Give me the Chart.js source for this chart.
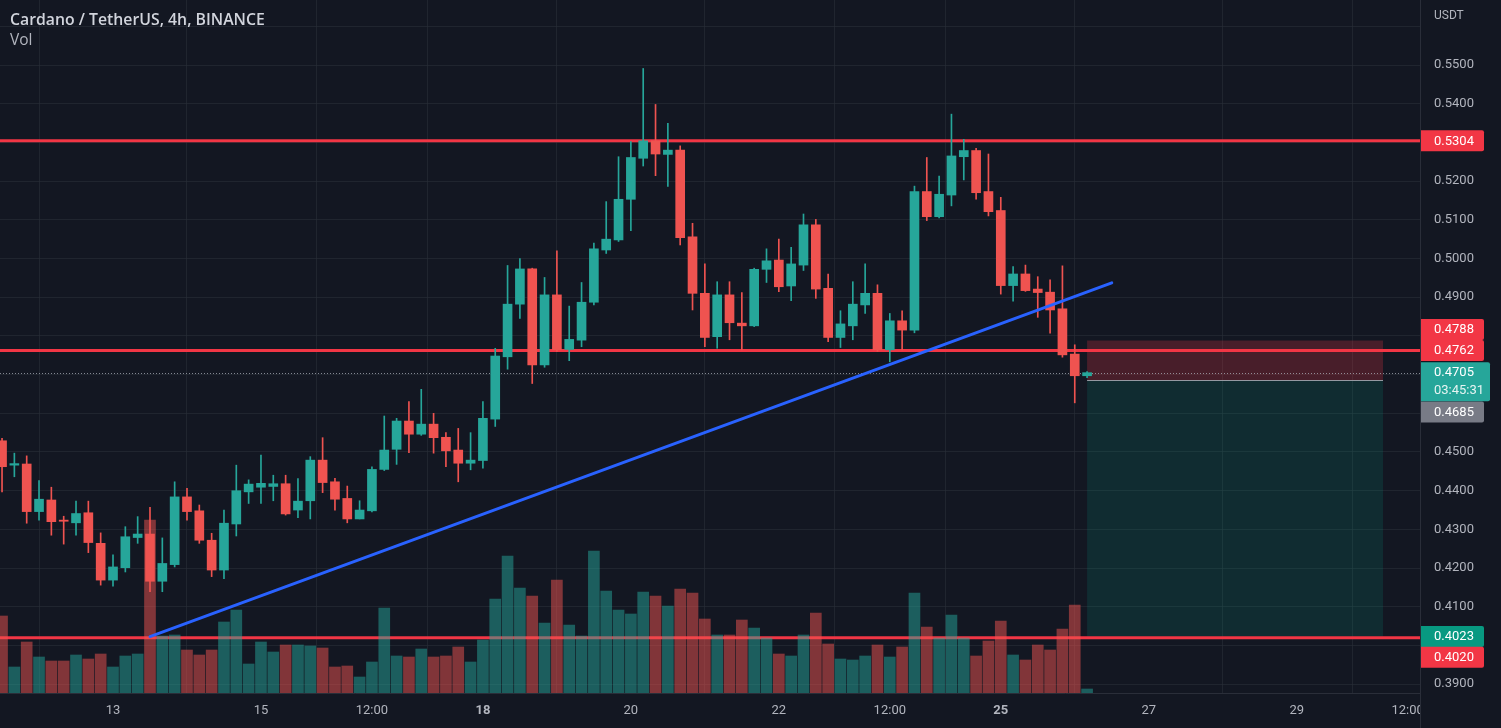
<!DOCTYPE html>
<html><head><meta charset="utf-8">
<script src="https://cdn.jsdelivr.net/npm/chart.js@4.4.0/dist/chart.umd.min.js"></script>
<style>html,body{margin:0;padding:0;background:#131722;overflow:hidden}canvas{display:block}</style>
</head><body>
<canvas id="c" width="1501" height="728" style="width:1501px;height:728px"></canvas>
<script>
// ---------- DATA ----------
const title = 'Cardano / TetherUS, 4h, BINANCE';
const volTitle = 'Vol';
const currency = 'USDT';
// candle index 0 = 13th 00:00, one step = 4h; first visible candle = 11th 12:00
const firstIndex = -9;
const open = [
.4529,.4466,.4469,.4346,.4376,.4324,.4317,.4343,.4264,
.4169,.4201,.4279,.4288,.4166,.4209,.4384,.4348,.4272,.4195,
.4314,.4397,.4409,.4411,.4418,.4350,.4374,.4479,.4423,.4380,
.4327,.4348,.4455,.4507,.4580,.4546,.4572,.4538,.4505,.4471,
.4478,.4585,.4746,.4882,.4973,.4725,.4906,.4765,.4789,.4887,
.5022,.5048,.5153,.5259,.5304,.5269,.5280,.5056,.4910,.4798,
.4906,.4833,.4826,.4972,.4996,.4929,.4983,.5087,.4923,.4796,
.4826,.4880,.4910,.4764,.4839,.4815,.5173,.5108,.5164,.5263,
.5279,.5173,.5124,.4930,.4960,.4921,.4913,.4870,.4753,.4697];
const high = [
.4535,.4497,.4490,.4426,.4409,.4334,.4373,.4373,.4291,
.4234,.4307,.4333,.4357,.4278,.4423,.4406,.4363,.4290,.4350,
.4466,.4428,.4492,.4440,.4440,.4431,.4488,.4537,.4432,.4412,
.4374,.4462,.4593,.4587,.4630,.4662,.4600,.4550,.4561,.4550,
.4630,.4768,.4982,.5000,.4975,.4951,.5020,.4877,.4938,.5040,
.5147,.5263,.5302,.5491,.5398,.5349,.5291,.5091,.4986,.4940,
.4940,.4912,.4975,.5025,.5050,.5029,.5115,.5101,.4960,.4865,
.4940,.4986,.4932,.4858,.4865,.5187,.5261,.5213,.5373,.5308,
.5285,.5270,.5158,.4979,.4983,.4953,.4945,.4981,.4777,.4708];
const low = [
.4397,.4436,.4316,.4324,.4285,.4262,.4285,.4240,.4156,
.4153,.4190,.4264,.4139,.4139,.4203,.4324,.4264,.4178,.4173,
.4283,.4367,.4367,.4374,.4337,.4330,.4327,.4395,.4350,.4317,
.4327,.4345,.4452,.4468,.4498,.4543,.4497,.4462,.4423,.4454,
.4458,.4566,.4714,.4845,.4677,.4719,.4760,.4736,.4772,.4880,
.5013,.5044,.5072,.5239,.5214,.5186,.5035,.4867,.4772,.4768,
.4790,.4764,.4824,.4938,.4914,.4891,.4969,.4897,.4785,.4770,
.4790,.4858,.4760,.4733,.4764,.4808,.5098,.5105,.5136,.5203,
.5153,.5110,.4908,.4890,.4915,.4848,.4807,.4745,.4627,.4692];
const close = [
.4462,.4470,.4346,.4378,.4320,.4321,.4341,.4266,.4169,
.4203,.4281,.4288,.4166,.4212,.4384,.4346,.4272,.4195,.4316,
.4400,.4417,.4419,.4418,.4340,.4373,.4479,.4421,.4378,.4327,
.4350,.4455,.4505,.4580,.4546,.4572,.4537,.4503,.4471,.4479,
.4587,.4748,.4882,.4973,.4725,.4906,.4764,.4791,.4887,.5025,
.5050,.5153,.5261,.5304,.5270,.5280,.5054,.4910,.4796,.4906,
.4834,.4826,.4972,.4994,.4927,.4986,.5087,.4921,.4796,.4831,
.4882,.4910,.4764,.4839,.4815,.5173,.5108,.5166,.5265,.5279,
.5170,.5121,.4930,.4960,.4917,.4912,.4867,.4751,.4697,.4705];
const volume = [ // millions
7.7,2.6,5.1,3.6,3.2,3.2,3.8,3.4,3.9,
2.6,3.7,3.9,17.3,5.7,5.8,4.3,3.8,4.3,7.1,
8.3,2.9,5.1,4.1,4.8,4.8,4.7,4.5,2.6,2.7,
1.6,3.1,8.5,3.7,3.6,4.4,3.6,3.7,4.6,3.1,
5.3,9.4,13.7,10.5,9.7,7.0,11.3,6.8,5.7,14.2,
10.2,8.3,7.9,10.1,9.7,8.7,10.4,10.0,7.4,5.8,
5.8,7.3,6.5,5.5,3.9,3.7,5.8,8.0,4.9,3.4,
3.3,3.7,4.8,3.6,4.6,10.0,6.6,5.5,7.8,5.5,
3.7,5.2,7.2,3.8,3.3,4.8,4.3,6.4,8.8,0.4];
const xTickPos = [0,12,21,30,42,54,63,72,84,96,105];
const xTickLabels = ['13','15','12:00','18','20','22','12:00','25','27','29','12:00'];
const xBoldLabels = ['18','25'];
const priceTicks = [0.39,0.40,0.41,0.42,0.43,0.44,0.45,0.46,0.47,0.48,0.49,0.50,0.51,0.52,0.53,0.54,0.55,0.56];
const hiddenPriceTicks = [0.40,0.46,0.47,0.48,0.53,0.56];
const levelLines = [0.5304, 0.4762, 0.4020];
const trendX = [3, 81];
const trendY = [0.4023, 0.4937];
const posStart = 79, posEnd = 103;
const posEntry = 0.4685, posStop = 0.4788, posTarget = 0.4023;
const lastPrice = 0.4705;
const countdown = '03:45:31';

// ---------- STYLE ----------
const BG = '#131722', UP = '#26a69a', DN = '#ef5350';
const UPV = 'rgba(38,166,154,0.5)', DNV = 'rgba(239,83,80,0.5)';
const LINE_RED = '#f23645', LINE_BLUE = '#2962ff';
const GRID = 'rgba(42,46,57,0.6)', TXT = '#b2b5be';
const FONT = "Roboto, 'Noto Sans', sans-serif";
const TITLE_FONT = "'Open Sans', Roboto, sans-serif";
// axis price labels (dy = stacking shift in px)
const axisLabels = [
  {price: 0.5304, text: '0.5304', bg: '#f23645', dy: 0},
  {price: 0.4788, text: '0.4788', bg: '#f23645', dy: -11},
  {price: 0.4762, text: '0.4762', bg: '#f23645', dy: 0},
  {price: 0.4685, text: '0.4685', bg: '#787b86', dy: 31.5},
  {price: 0.4023, text: '0.4023', bg: '#089981', dy: 0},
  {price: 0.4020, text: '0.4020', bg: '#f23645', dy: 19.5}
];

Chart.defaults.font.family = FONT;
Chart.defaults.font.size = 13;
Chart.defaults.color = TXT;

const xs = open.map((_, i) => i + firstIndex);
const isUp = close.map((c, i) => c >= open[i]);

const decor = {
  id: 'decor',
  beforeDraw(chart) {
    const ctx = chart.ctx;
    ctx.save(); ctx.fillStyle = BG; ctx.fillRect(0, 0, chart.width, chart.height); ctx.restore();
  },
  beforeDatasetsDraw(chart) {
    const {ctx, chartArea: a, scales: {x, y}} = chart;
    ctx.save();
    ctx.beginPath(); ctx.rect(a.left, a.top, a.right - a.left, a.bottom - a.top); ctx.clip();
    const x0 = x.getPixelForValue(posStart), x1 = x.getPixelForValue(posEnd);
    const yS = y.getPixelForValue(posStop), yE = y.getPixelForValue(posEntry), yT = y.getPixelForValue(posTarget);
    ctx.fillStyle = 'rgba(242,54,69,0.24)'; ctx.fillRect(x0, yS, x1 - x0, yE - yS);
    ctx.fillStyle = 'rgba(8,153,129,0.16)'; ctx.fillRect(x0, yE, x1 - x0, yT - yE);
    ctx.strokeStyle = '#9598a1'; ctx.lineWidth = 1;
    ctx.beginPath(); ctx.moveTo(x0, Math.round(yE) + 0.5); ctx.lineTo(x1, Math.round(yE) + 0.5); ctx.stroke();
    // last price dotted line
    const yl = Math.round(y.getPixelForValue(lastPrice)) + 0.5;
    ctx.setLineDash([1, 2]); ctx.strokeStyle = 'rgba(180,185,195,0.7)';
    ctx.beginPath(); ctx.moveTo(a.left, yl); ctx.lineTo(a.right, yl); ctx.stroke();
    ctx.setLineDash([]);
    // horizontal levels
    ctx.strokeStyle = LINE_RED; ctx.lineWidth = 3;
    levelLines.forEach(p => {
      const yy = y.getPixelForValue(p);
      ctx.beginPath(); ctx.moveTo(a.left, yy); ctx.lineTo(a.right, yy); ctx.stroke();
    });
    ctx.restore();
  },
  afterDatasetsDraw(chart) {
    const {ctx, chartArea: a, scales: {x, y}} = chart;
    ctx.save();
    ctx.beginPath(); ctx.rect(a.left, a.top, a.right - a.left, a.bottom - a.top); ctx.clip();
    ctx.strokeStyle = LINE_BLUE; ctx.lineWidth = 3; ctx.lineCap = 'round';
    ctx.beginPath();
    ctx.moveTo(x.getPixelForValue(trendX[0]), y.getPixelForValue(trendY[0]));
    ctx.lineTo(x.getPixelForValue(trendX[1]), y.getPixelForValue(trendY[1]));
    ctx.stroke();
    ctx.restore();
  },
  afterDraw(chart) {
    const {ctx, chartArea: a, scales: {y}} = chart;
    ctx.save();
    // clip the x labels at the price-axis corner
    ctx.fillStyle = BG; ctx.fillRect(a.right + 1, a.bottom + 1, chart.width - a.right, chart.height - a.bottom);
    ctx.strokeStyle = '#2a2e39'; ctx.lineWidth = 1;
    ctx.beginPath(); ctx.moveTo(a.right + 0.5, 0); ctx.lineTo(a.right + 0.5, chart.height); ctx.stroke();
    // titles
    ctx.textBaseline = 'middle'; ctx.textAlign = 'left';
    ctx.fillStyle = '#d1d4dc'; ctx.font = '600 15.8px ' + TITLE_FONT; ctx.fillText(title, 10, 20);
    ctx.fillStyle = TXT; ctx.font = '15.5px ' + TITLE_FONT; ctx.fillText(volTitle, 10, 41);
    ctx.font = '12px ' + FONT; ctx.fillStyle = TXT; ctx.fillText(currency, a.right + 14, 16);
    // price labels
    const L = a.right + 1, W = 63, H = 21;
    ctx.font = '13px ' + FONT;
    axisLabels.forEach(lb => {
      const cy = y.getPixelForValue(lb.price) + lb.dy;
      ctx.fillStyle = lb.bg;
      ctx.beginPath(); ctx.roundRect(L, cy - H / 2, W, H, [0, 2, 2, 0]); ctx.fill();
      ctx.fillStyle = '#ffffff'; ctx.fillText(lb.text, a.right + 14, cy + 0.5);
    });
    // last price label with countdown
    const cy = y.getPixelForValue(lastPrice);
    ctx.fillStyle = UP;
    ctx.beginPath(); ctx.roundRect(L, cy - 10.5, 69, 39, [0, 2, 2, 0]); ctx.fill();
    ctx.fillStyle = '#ffffff'; ctx.fillText(lastPrice.toFixed(4), a.right + 14, cy + 0.5);
    ctx.fillStyle = '#e6f4f2'; ctx.fillText(countdown, a.right + 14, cy + 18);
    ctx.restore();
  }
};

new Chart(document.getElementById('c'), {
  type: 'bar',
  data: {
    datasets: [
      {
        label: 'body', order: 0, grouped: false, barThickness: 9, minBarLength: 1,
        data: xs.map((x, i) => ({x, y: [open[i], close[i]]})),
        backgroundColor: isUp.map(u => u ? UP : DN), borderWidth: 0,
        xAxisID: 'x', yAxisID: 'y'
      },
      {
        label: 'wick', order: 1, grouped: false, barThickness: 1,
        data: xs.map((x, i) => ({x, y: [low[i], high[i]]})),
        backgroundColor: isUp.map(u => u ? UP : DN), borderWidth: 0,
        xAxisID: 'x', yAxisID: 'y'
      },
      {
        label: 'volume', order: 2, grouped: false, barThickness: 11,
        data: xs.map((x, i) => ({x, y: volume[i]})),
        backgroundColor: isUp.map(u => u ? UPV : DNV), borderWidth: 0,
        xAxisID: 'x', yAxisID: 'yv'
      }
    ]
  },
  options: {
    responsive: false, animation: false, devicePixelRatio: 1,
    layout: {padding: 0},
    plugins: {legend: {display: false}, tooltip: {enabled: false}},
    scales: {
      x: {
        type: 'linear', min: -9.165, max: 106.0, offset: false,
        grid: {color: GRID, drawTicks: false},
        border: {display: true, color: '#2a2e39'},
        afterBuildTicks: s => { s.ticks = xTickPos.map(v => ({value: v})); },
        afterFit: s => { s.height = 35; s.paddingLeft = 0; s.paddingRight = 0; },
        ticks: {
          autoSkip: false, maxRotation: 0, padding: 10, color: TXT,
          callback: (v, i) => xTickLabels[i],
          font: c => ({family: FONT, size: 13, weight: (c.tick && xBoldLabels.includes(xTickLabels[c.index])) ? 'bold' : 'normal'})
        }
      },
      y: {
        type: 'linear', position: 'right', min: 0.387726, max: 0.566796,
        grid: {color: GRID, drawTicks: false},
        border: {display: true, color: '#2a2e39'},
        afterBuildTicks: s => { s.ticks = priceTicks.map(v => ({value: v})); },
        afterFit: s => { s.width = 81; s.paddingTop = 0; s.paddingBottom = 0; },
        ticks: {
          padding: 14, color: TXT, font: {family: FONT, size: 13},
          callback: v => hiddenPriceTicks.some(h => Math.abs(h - v) < 1e-6) ? '' : v.toFixed(4)
        }
      },
      yv: {type: 'linear', display: false, min: 0, max: 69.3}
    }
  },
  plugins: [decor]
});
</script>
</body></html>
